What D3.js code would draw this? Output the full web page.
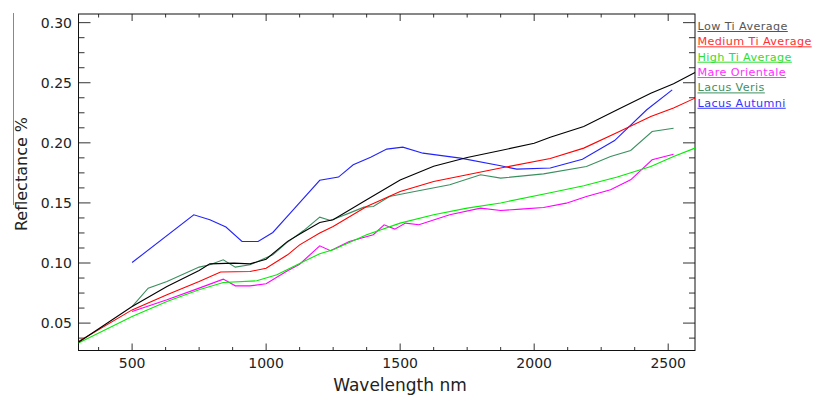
<!DOCTYPE html>
<html>
<head>
<meta charset="utf-8">
<script src="https://cdn.jsdelivr.net/npm/d3@7"></script>
<style>
  body { margin: 0; background: #fff; }
  text { font-family: "DejaVu Sans", sans-serif; fill: #222; }
</style>
</head>
<body>
<script>
'use strict';

// series names (legend order)
let seriesNames = ["Low Ti Average", "Medium Ti Average", "High Ti Average",
  "Mare Orientale", "Lacus Veris", "Lacus Autumni"];

// wavelength (nm) and reflectance values
let lowTiWl = [300, 500, 630, 750, 790, 880, 940, 1000, 1080, 1140, 1200, 1250, 1375, 1500,
  1625, 1750, 1875, 2000, 2060, 2185, 2310, 2435, 2520, 2600];
let lowTiVal = [0.034, 0.0638, 0.0805, 0.0938, 0.0993, 0.0999, 0.0993, 0.1032, 0.118, 0.126, 0.1337, 0.136, 0.1526, 0.169,
  0.1805, 0.1878, 0.1936, 0.1997, 0.2047, 0.2136, 0.2275, 0.2413, 0.2491, 0.2585];

let medTiWl = [300, 500, 630, 750, 830, 940, 1000, 1080, 1125, 1200, 1250, 1375, 1500, 1625,
  1750, 1875, 2060, 2185, 2310, 2435, 2520, 2600];
let medTiVal = [0.0347, 0.061, 0.0736, 0.0846, 0.0925, 0.0929, 0.0957, 0.1068, 0.1151, 0.1249, 0.1304, 0.147, 0.1595, 0.1678,
  0.1734, 0.179, 0.187, 0.1956, 0.2086, 0.2219, 0.2289, 0.2372];

let highTiWl = [300, 500, 630, 750, 840, 965, 1040, 1140, 1200, 1250, 1375, 1500, 1625, 1750,
  1875, 2060, 2185, 2310, 2435, 2520, 2600];
let highTiVal = [0.0334, 0.0555, 0.068, 0.0777, 0.0838, 0.0852, 0.0902, 0.1012, 0.1077, 0.111, 0.1235, 0.1332, 0.1401, 0.1457,
  0.150, 0.1585, 0.1643, 0.1715, 0.1803, 0.1886, 0.1956];

let orientaleWl = [500, 630, 750, 840, 885, 940, 1000, 1075, 1125, 1200, 1240, 1310, 1400, 1440, 1480, 1520,
  1570, 1685, 1800, 1875, 1950, 2035, 2120, 2195, 2285, 2360, 2440, 2520];
let orientaleVal = [0.0597, 0.0694, 0.0791, 0.0866, 0.081, 0.081, 0.0827, 0.0929, 0.099, 0.1143, 0.1102, 0.1179, 0.1235, 0.1318, 0.1282, 0.1332,
  0.1318, 0.1401, 0.1457, 0.1437, 0.1448, 0.1462, 0.1498, 0.1553, 0.1609, 0.1692, 0.1859, 0.1905];

let verisWl = [500, 560, 630, 750, 790, 840, 885, 940, 1025, 1075, 1140, 1200, 1240, 1310, 1365, 1400,
  1460, 1535, 1685, 1800, 1875, 2035, 2195, 2285, 2360, 2440, 2520];
let verisVal = [0.0638, 0.0791, 0.0846, 0.0966, 0.0985, 0.1027, 0.0966, 0.0985, 0.1068, 0.1166, 0.127, 0.1382, 0.1354, 0.1415, 0.1465, 0.147,
  0.1553, 0.1587, 0.1651, 0.1734, 0.1706, 0.1742, 0.1803, 0.1886, 0.1936, 0.2094, 0.2122];

let autumniWl = [500, 730, 790, 850, 910, 970, 1025, 1095, 1200, 1270, 1325, 1390, 1450, 1510, 1585,
  1725, 1875, 1935, 2060, 2180, 2300, 2420, 2515];
let autumniVal = [0.1004, 0.1401, 0.136, 0.1299, 0.1179, 0.1179, 0.1254, 0.1428, 0.1688, 0.1715, 0.1817, 0.1881, 0.1948, 0.1964, 0.1914,
  0.1873, 0.1809, 0.1781, 0.179, 0.1864, 0.2019, 0.2275, 0.2441];

// axis ticks
let xMajorTicks = [500, 1000, 1500, 2000, 2500];
let yMajorTicks = [0.05, 0.10, 0.15, 0.20, 0.25, 0.30];

// line and legend colours
let lineColors = ["#000000", "#ff0000", "#00ee00", "#ff00ff", "#3a8f5f", "#2222ff"];
let legendColors = ["#555555", "#ff3030", "#33dd33", "#ff30ff", "#3f8f60", "#3535ff"];

// plot box (IDL style, ticks on all four sides)
let box = { left: 78.5, right: 695, top: 14, bottom: 350.5 };
let svgWidth = 815, svgHeight = 395;

let svgContainer = d3.select("body")
  .append("svg")
  .attr("width", svgWidth)
  .attr("height", svgHeight);

let xScale = d3.scaleLinear().domain([300, 2600]).range([box.left, box.right]);
let yScale = d3.scaleLinear().domain([0.0272, 0.3072]).range([box.bottom, box.top]);

drawAxes();
drawLines();
drawLegend();

// builds the rows of one series
function makeSeries(wl, val) {
  return wl.map((w, i) => ({ wl: w, v: val[i] }));
}

// draws the frame, ticks, tick labels and titles
function drawAxes() {
  let g = svgContainer.append("g");

  // minor ticks every quarter of a major step
  let xMinor = d3.range(375, 2600, 125).filter(d => d % 500 != 0);
  let yMinor = d3.range(0.0375, 0.307, 0.0125).filter(d => Math.abs(d * 20 - Math.round(d * 20)) > 1e-6);

  let xMajorLen = 7, xMinorLen = 3.5, yMajorLen = 12, yMinorLen = 6;

  // bottom and top ticks
  let xTickData = xMajorTicks.map(d => ({ v: d, len: xMajorLen })).concat(xMinor.map(d => ({ v: d, len: xMinorLen })));
  g.selectAll(".xtick-b").data(xTickData).enter().append("line")
    .attr("x1", d => xScale(d.v)).attr("x2", d => xScale(d.v))
    .attr("y1", box.bottom).attr("y2", d => box.bottom - d.len)
    .attr("stroke", "#333").attr("stroke-width", 1);
  g.selectAll(".xtick-t").data(xTickData).enter().append("line")
    .attr("x1", d => xScale(d.v)).attr("x2", d => xScale(d.v))
    .attr("y1", box.top).attr("y2", d => box.top + d.len)
    .attr("stroke", "#333").attr("stroke-width", 1);

  // left and right ticks
  let yTickData = yMajorTicks.map(d => ({ v: d, len: yMajorLen })).concat(yMinor.map(d => ({ v: d, len: yMinorLen })));
  g.selectAll(".ytick-l").data(yTickData).enter().append("line")
    .attr("x1", box.left).attr("x2", d => box.left + d.len)
    .attr("y1", d => yScale(d.v)).attr("y2", d => yScale(d.v))
    .attr("stroke", "#333").attr("stroke-width", 1);
  g.selectAll(".ytick-r").data(yTickData).enter().append("line")
    .attr("x1", box.right).attr("x2", d => box.right - d.len)
    .attr("y1", d => yScale(d.v)).attr("y2", d => yScale(d.v))
    .attr("stroke", "#333").attr("stroke-width", 1);

  // frame
  g.append("rect")
    .attr("x", box.left).attr("y", box.top)
    .attr("width", box.right - box.left).attr("height", box.bottom - box.top)
    .attr("fill", "none").attr("stroke", "#111").attr("stroke-width", 1);

  // tick labels
  g.selectAll(".xlabel").data(xMajorTicks).enter().append("text")
    .attr("x", d => xScale(d)).attr("y", 368)
    .attr("text-anchor", "middle").style("font-size", "14px")
    .text(d => d);
  g.selectAll(".ylabel").data(yMajorTicks).enter().append("text")
    .attr("x", 72).attr("y", d => yScale(d) + 5)
    .attr("text-anchor", "end").style("font-size", "14px")
    .text(d => d3.format(".2f")(d));

  // axis titles
  g.append("text")
    .attr("x", 400).attr("y", 391)
    .attr("text-anchor", "middle").style("font-size", "17px")
    .text("Wavelength nm");
  g.append("text")
    .attr("transform", "translate(27,174) rotate(-90)")
    .attr("text-anchor", "middle").style("font-size", "16px")
    .text("Reflectance %");

  // stray grey rule at the far left of the picture
  g.append("line")
    .attr("x1", 13.5).attr("x2", 13.5).attr("y1", 13).attr("y2", 205)
    .attr("stroke", "#888").attr("stroke-width", 1);
}

// draws the six spectra
function drawLines() {
  let allSeries = [
    makeSeries(lowTiWl, lowTiVal),
    makeSeries(medTiWl, medTiVal),
    makeSeries(highTiWl, highTiVal),
    makeSeries(orientaleWl, orientaleVal),
    makeSeries(verisWl, verisVal),
    makeSeries(autumniWl, autumniVal)
  ];

  let line = d3.line()
    .x(d => xScale(d.wl))
    .y(d => yScale(d.v));

  // draw back to front so the averages sit on top like the reference
  let order = [5, 4, 3, 2, 1, 0];
  order.forEach(i => {
    svgContainer.append("path")
      .datum(allSeries[i])
      .attr("d", line)
      .attr("fill", "none")
      .attr("stroke", lineColors[i])
      .attr("stroke-width", 1.1);
  });
}

// draws the underlined legend to the right of the box
function drawLegend() {
  let legendX = 697.5;
  let firstBaseline = 30, step = 15.35;

  seriesNames.forEach((name, i) => {
    let y = firstBaseline + i * step;
    let t = svgContainer.append("text")
      .attr("x", legendX).attr("y", y)
      .style("font-size", "11.2px")
      .style("letter-spacing", "0.4px")
      .style("fill", legendColors[i])
      .text(name);
    let w = t.node().getComputedTextLength();
    svgContainer.append("line")
      .attr("x1", legendX).attr("x2", legendX + w)
      .attr("y1", y + 1.5).attr("y2", y + 1.5)
      .attr("stroke", legendColors[i]).attr("stroke-width", 1);
  });
}
</script>
</body>
</html>
